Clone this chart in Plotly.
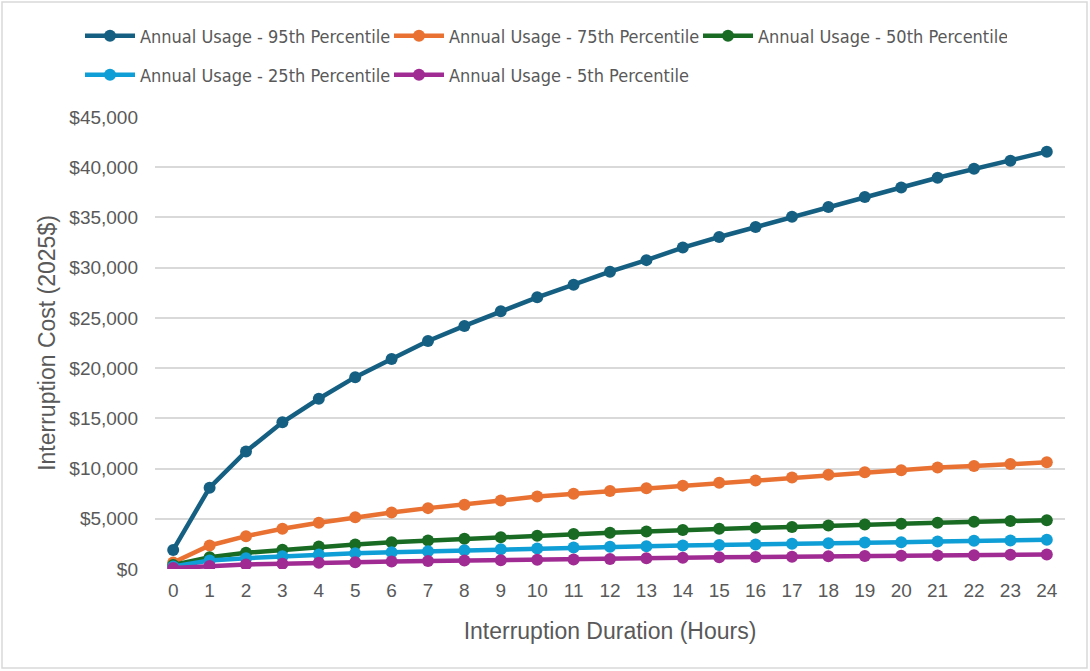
import plotly.graph_objects as go

hours = list(range(25))

p95 = [1900, 8100, 11700, 14600, 16950, 19100, 20900, 22700, 24200, 25650, 27050, 28300,
       29600, 30750, 32000, 33050, 34050, 35080, 36050, 37030, 37980, 38950, 39850, 40650, 41550]
p75 = [650, 2340, 3270, 4000, 4600, 5160, 5630, 6060, 6400, 6820, 7220, 7490,
       7760, 8050, 8300, 8590, 8820, 9110, 9380, 9640, 9830, 10100, 10250, 10450, 10620]
p50 = [400, 1180, 1610, 1910, 2240, 2440, 2670, 2840, 3010, 3170, 3300, 3480,
       3600, 3730, 3880, 4000, 4100, 4180, 4320, 4430, 4500, 4600, 4700, 4790, 4860]
p25 = [250, 850, 1080, 1280, 1440, 1580, 1670, 1770, 1870, 1970, 2040, 2140,
       2210, 2270, 2340, 2380, 2440, 2510, 2570, 2640, 2670, 2740, 2810, 2840, 2910]
p05 = [100, 300, 450, 520, 620, 680, 750, 790, 850, 880, 920, 950,
       1000, 1060, 1110, 1160, 1190, 1230, 1260, 1290, 1320, 1350, 1380, 1410, 1440]

series = [
    ("Annual Usage - 95th Percentile", p95, "#156082", "legend"),
    ("Annual Usage - 75th Percentile", p75, "#E97132", "legend"),
    ("Annual Usage - 50th Percentile", p50, "#196B24", "legend"),
    ("Annual Usage - 25th Percentile", p25, "#0F9ED5", "legend2"),
    ("Annual Usage - 5th Percentile", p05, "#A02B93", "legend2"),
]

y_ticks = list(range(0, 45001, 5000))
y_tick_text = [f"${v:,}" for v in y_ticks]

W, H = 1090, 671
ML, MR, MT, MB = 155, 25, 117, 102
PW, PH = W - ML - MR, H - MT - MB

def px_x(px):
    return (px - ML) / PW

def px_y(py):
    return (H - MB - py) / PH

fig = go.Figure()
for name, vals, color, leg in series:
    fig.add_trace(go.Scatter(
        x=hours, y=vals, name=name, mode="lines+markers",
        line=dict(color=color, width=4.5),
        marker=dict(color=color, size=12),
        legend=leg,
    ))

text_color = "#595959"
legend_font = dict(family="DejaVu Sans Condensed, Liberation Sans, sans-serif", size=18, color=text_color)

fig.update_layout(
    width=W, height=H,
    margin=dict(l=ML, r=MR, t=MT, b=MB, autoexpand=False),
    paper_bgcolor="white", plot_bgcolor="white",
    font=dict(family="Liberation Sans, Arial, sans-serif", size=19, color=text_color),
    legend=dict(orientation="h", x=px_x(80), xanchor="left", y=px_y(36), yanchor="middle",
                font=legend_font, itemwidth=50, entrywidth=244, bgcolor="rgba(0,0,0,0)"),
    legend2=dict(orientation="h", x=px_x(80), xanchor="left", y=px_y(75), yanchor="middle",
                 font=legend_font, itemwidth=50, entrywidth=244, bgcolor="rgba(0,0,0,0)"),
    xaxis=dict(
        range=[-0.5, 24.5], tickmode="array", tickvals=hours, ticktext=[str(h) for h in hours],
        showgrid=False, zeroline=False, showline=False, ticks="", ticklabelstandoff=8,
        title=dict(text="Interruption Duration (Hours)", standoff=22),
        automargin=False,
    ),
    yaxis=dict(
        range=[0, 45000], tickmode="array", tickvals=y_ticks, ticktext=y_tick_text,
        showgrid=True, gridcolor="#D9D9D9", gridwidth=1.5, zeroline=False, showline=False,
        ticks="", ticklabelstandoff=16,
        title=dict(text="Interruption Cost (2025$)", standoff=7),
        automargin=False,
    ),
    shapes=[dict(type="rect", xref="paper", yref="paper",
                 x0=px_x(2), x1=px_x(1087), y0=px_y(668), y1=px_y(2),
                 line=dict(color="#D9D9D9", width=1.5), layer="below")],
)

fig.write_html("out.html")
